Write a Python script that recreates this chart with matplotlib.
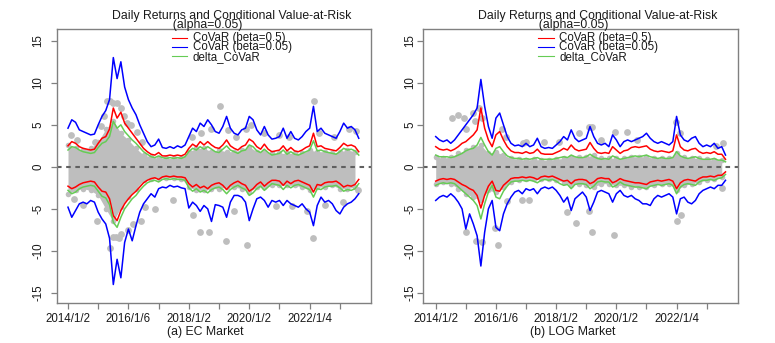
import numpy as np
import matplotlib
matplotlib.use("Agg")
import matplotlib.pyplot as plt
from matplotlib.lines import Line2D

plt.rcParams['font.family'] = ['Liberation Sans', 'DejaVu Sans']

# ---------------- data ----------------
# time grid: every 1/8 year starting 2014/1/2
t_start = 2014.0
n_pts = 78
# band grid: every 1/4 year
n_band = 39

tick_years = [2014, 2015, 2016, 2017, 2018, 2019, 2020, 2021, 2022, 2023]
tick_labels = ["2014/1/2", "", "2016/1/6", "", "2018/1/2", "", "2020/1/2", "", "2022/1/4", ""]
y_ticks = [-15, -10, -5, 0, 5, 10, 15]

# ----- EC market -----
ec_blue_up = [4.6, 5.6, 5.3, 4.4, 4.2, 4.0, 3.8, 3.9,
              5.0, 6.0, 6.7, 8.0, 13.0, 10.5, 12.5, 9.5,
              8.0, 7.0, 6.2, 5.0, 4.0, 3.0, 2.4, 2.6,
              3.3, 2.3, 2.2, 2.4, 2.2, 2.5, 2.3, 2.6,
              3.6, 4.6, 4.2, 5.2, 4.8, 5.6, 5.0, 4.2,
              4.0, 4.8, 6.0, 4.6, 4.0, 3.8, 4.4, 4.6,
              6.0, 5.6, 4.4, 3.8, 4.8, 3.8, 3.3, 3.4,
              3.6, 4.6, 3.4, 4.2, 3.4, 3.2, 3.6, 4.2,
              4.6, 7.2, 4.2, 4.6, 4.0, 3.8, 3.6, 3.4,
              4.2, 5.2, 4.6, 4.8, 4.4, 3.4]
ec_red_up = [2.5, 3.0, 2.8, 2.4, 2.2, 2.1, 2.0, 2.1,
             2.8, 3.4, 3.6, 4.5, 7.0, 5.8, 6.5, 5.2,
             4.6, 4.0, 3.4, 2.8, 2.2, 1.8, 1.5, 1.4,
             1.7, 1.3, 1.3, 1.4, 1.3, 1.4, 1.3, 1.5,
             2.2, 2.7, 2.4, 3.0, 2.6, 3.0, 2.6, 2.3,
             2.2, 2.6, 3.2, 2.5, 2.2, 2.0, 2.4, 2.6,
             3.3, 3.0, 2.4, 2.1, 2.7, 2.1, 1.8, 1.9,
             2.0, 2.5, 1.9, 2.3, 1.9, 1.8, 2.0, 2.3,
             2.5, 4.0, 2.4, 2.5, 2.2, 2.1, 2.0, 1.9,
             2.3, 2.8, 2.5, 2.6, 2.4, 1.8]
ec_green_up = [2.0, 2.4, 2.3, 2.0, 1.8, 1.7, 1.6, 1.7,
               2.3, 2.8, 3.0, 3.6, 5.4, 4.6, 5.0, 4.2,
               3.7, 3.2, 2.8, 2.3, 1.8, 1.5, 1.2, 1.1,
               1.3, 1.1, 1.0, 1.1, 1.0, 1.1, 1.0, 1.2,
               1.8, 2.2, 2.0, 2.4, 2.1, 2.4, 2.1, 1.8,
               1.7, 2.1, 2.5, 2.0, 1.8, 1.6, 1.9, 2.0,
               2.6, 2.4, 1.9, 1.7, 2.1, 1.7, 1.4, 1.5,
               1.6, 2.0, 1.5, 1.8, 1.5, 1.4, 1.6, 1.8,
               2.0, 3.1, 1.9, 2.0, 1.8, 1.7, 1.6, 1.5,
               1.8, 2.2, 2.0, 2.1, 1.9, 1.4]
ec_red_lo = [-2.3, -2.6, -2.4, -2.1, -1.9, -1.8, -1.7, -1.8,
             -2.4, -2.9, -3.0, -3.8, -5.8, -6.4, -5.2, -4.4,
             -3.8, -3.3, -2.9, -2.4, -1.9, -1.6, -1.4, -1.3,
             -1.5, -1.2, -1.1, -1.2, -1.1, -1.2, -1.2, -1.3,
             -2.0, -2.4, -2.1, -2.5, -2.3, -2.6, -2.2, -2.0,
             -1.9, -2.2, -2.7, -2.2, -1.9, -1.7, -2.0, -2.2,
             -2.9, -2.6, -2.1, -1.8, -2.3, -1.9, -1.6, -1.6,
             -1.7, -2.2, -1.7, -2.0, -1.7, -1.6, -1.8, -2.0,
             -2.2, -3.0, -2.1, -2.2, -1.9, -1.8, -1.8, -1.7,
             -2.0, -2.4, -2.2, -2.3, -2.1, -1.5]
ec_green_lo = [-2.8, -3.2, -3.0, -2.6, -2.4, -2.3, -2.2, -2.3,
               -2.9, -3.5, -3.7, -4.5, -6.6, -7.2, -6.0, -5.0,
               -4.4, -3.8, -3.4, -2.8, -2.3, -1.9, -1.7, -1.6,
               -1.8, -1.5, -1.4, -1.5, -1.4, -1.5, -1.5, -1.6,
               -2.5, -2.9, -2.6, -3.0, -2.8, -3.1, -2.7, -2.5,
               -2.4, -2.7, -3.2, -2.7, -2.4, -2.2, -2.5, -2.7,
               -3.4, -3.1, -2.6, -2.3, -2.8, -2.4, -2.0, -2.1,
               -2.2, -2.7, -2.2, -2.5, -2.2, -2.1, -2.3, -2.5,
               -2.7, -3.6, -2.6, -2.7, -2.4, -2.3, -2.3, -2.2,
               -2.5, -2.9, -2.7, -2.8, -2.6, -2.0]
ec_blue_lo = [-4.8, -6.0, -5.2, -4.4, -4.2, -4.4, -4.0, -4.2,
              -5.4, -6.2, -6.8, -8.5, -14.0, -11.0, -13.2, -9.0,
              -7.4, -8.8, -7.0, -5.4, -4.4, -3.8, -3.2, -3.6,
              -2.6, -2.4, -2.5, -2.2, -2.4, -2.3, -2.5, -2.6,
              -4.9, -4.2, -4.6, -5.3, -4.6, -5.0, -6.5, -4.5,
              -4.6, -4.8, -6.0, -4.2, -3.4, -3.4, -3.6, -4.2,
              -6.4, -5.0, -3.8, -3.6, -4.0, -4.8, -4.0, -4.2,
              -4.0, -4.6, -4.0, -4.4, -4.6, -4.8, -4.4, -5.0,
              -5.4, -7.0, -4.6, -3.6, -4.2, -4.0, -4.4, -5.2,
              -5.6, -4.8, -4.4, -4.2, -3.8, -3.2]
ec_band_hi = [2.6, 2.2, 2.0, 2.2, 3.0, 4.5, 5.5, 4.0,
              3.2, 2.2, 1.4, 1.2, 1.0, 1.0, 1.0, 1.1,
              1.8, 2.2, 2.2, 1.8, 2.0, 1.8, 1.8, 2.0,
              2.4, 1.8, 1.8, 1.6, 1.6, 1.6, 1.6, 1.6,
              2.0, 1.8, 1.8, 1.6, 1.8, 2.0, 1.8]
ec_band_lo = [-3.2, -2.8, -2.6, -2.8, -3.4, -5.0, -6.5, -4.8,
              -3.6, -2.6, -1.6, -1.4, -1.3, -1.3, -1.3, -1.4,
              -2.4, -2.8, -2.8, -2.6, -2.6, -2.4, -2.4, -2.6,
              -3.0, -2.4, -2.4, -2.2, -2.2, -2.2, -2.2, -2.4,
              -2.8, -2.4, -2.4, -2.2, -2.6, -2.6, -2.4]
ec_out_t = [2014.1, 2014.3, 2014.9, 2015.1, 2015.2, 2015.3, 2015.4, 2015.5, 2015.62,
            2015.75, 2015.85, 2015.95, 2016.1, 2016.3, 2016.45, 2018.1, 2018.4, 2018.75,
            2019.03, 2019.3, 2019.55, 2019.9, 2020.05, 2020.5, 2021.0, 2021.3, 2022.14,
            2022.3, 2022.8, 2023.3, 2023.55,
            2014.2, 2014.5, 2014.96, 2015.4, 2015.5, 2015.6, 2015.7, 2015.75, 2016.0,
            2016.15, 2016.42, 2016.56, 2016.88, 2017.48, 2018.15, 2018.37, 2018.67,
            2019.23, 2019.5, 2019.93, 2020.9, 2021.4, 2021.9, 2022.12, 2022.5, 2023.1, 2023.6]
ec_out_v = [3.8, 3.2, 3.0, 4.8, 6.0, 7.8, 7.8, 7.6, 7.6,
            7.0, 6.0, 5.2, 5.0, 4.2, 3.0, 3.5, 4.0, 4.5,
            7.2, 4.4, 3.6, 4.5, 5.0, 4.0, 3.8, 3.5, 7.8,
            4.0, 3.5, 4.5, 4.3,
            -3.8, -4.5, -6.4, -9.7, -8.3, -8.3, -8.5, -8.0, -7.5,
            -6.8, -6.5, -4.8, -5.0, -3.9, -5.7, -7.8, -7.7,
            -8.8, -5.2, -9.3, -4.7, -4.7, -5.2, -8.5, -4.5, -4.2, -2.8]

# ----- LOG market -----
log_blue_up = [3.6, 3.2, 3.0, 3.2, 2.8, 3.2, 3.8, 4.4,
               5.0, 5.6, 6.2, 7.0, 10.4, 7.2, 4.8, 3.4,
               5.8, 6.4, 5.0, 3.6, 2.8, 2.5, 2.6, 2.4,
               2.8, 2.4, 2.6, 3.4, 2.4, 2.2, 2.3, 2.2,
               2.6, 3.0, 3.6, 3.2, 4.4, 3.4, 3.0, 3.2,
               3.4, 4.8, 3.6, 2.8, 2.6, 2.8, 2.4, 3.8,
               3.2, 2.4, 3.0, 3.2, 3.0, 3.2, 3.4, 3.6,
               4.0, 3.4, 3.0, 2.8, 3.0, 2.8, 2.6, 3.0,
               6.0, 3.8, 3.2, 3.0, 3.4, 3.6, 2.8, 2.4,
               2.6, 2.4, 2.8, 2.2, 2.4, 1.4]
log_red_up = [2.4, 2.1, 2.0, 2.1, 1.9, 2.1, 2.4, 2.8,
              3.0, 3.4, 3.8, 4.4, 7.0, 4.6, 3.2, 2.4,
              3.8, 4.2, 3.2, 2.4, 1.9, 1.7, 1.7, 1.6,
              1.8, 1.6, 1.7, 2.1, 1.6, 1.5, 1.5, 1.5,
              1.7, 1.9, 2.2, 2.0, 2.6, 2.1, 1.9, 2.0,
              2.1, 2.9, 2.2, 1.7, 1.6, 1.7, 1.6, 2.4,
              2.0, 1.6, 1.9, 2.0, 2.3, 2.4, 2.3, 2.4,
              2.5, 2.1, 1.9, 1.8, 1.9, 1.8, 1.7, 1.9,
              3.8, 2.4, 2.0, 1.9, 2.1, 2.2, 1.8, 1.6,
              1.7, 1.6, 1.8, 1.5, 1.5, 0.9]
log_green_up = [1.4, 1.2, 1.2, 1.2, 1.1, 1.2, 1.4, 1.6,
                1.9, 2.1, 2.2, 2.6, 3.5, 2.6, 1.8, 1.4,
                2.2, 2.4, 1.8, 1.3, 1.1, 1.0, 1.0, 0.9,
                1.0, 0.9, 1.0, 1.1, 0.9, 0.9, 0.9, 0.9,
                1.0, 1.1, 1.2, 1.1, 1.4, 1.2, 1.1, 1.1,
                1.2, 1.5, 1.2, 1.0, 0.9, 1.0, 0.9, 1.3,
                1.1, 0.9, 1.0, 1.1, 1.2, 1.3, 1.2, 1.3,
                1.4, 1.2, 1.1, 1.0, 1.1, 1.0, 1.0, 1.1,
                1.8, 1.3, 1.1, 1.0, 1.1, 1.2, 1.0, 0.9,
                0.9, 0.9, 1.0, 0.8, 0.8, 0.6]
log_red_lo = [-1.7, -1.5, -1.4, -1.5, -1.4, -1.5, -1.8, -2.1,
              -2.3, -2.6, -2.8, -3.4, -4.9, -3.4, -2.3, -1.7,
              -2.8, -2.9, -2.2, -1.8, -1.4, -1.3, -1.3, -1.2,
              -1.3, -1.2, -1.3, -1.5, -1.2, -1.1, -1.2, -1.1,
              -1.3, -1.5, -1.7, -1.6, -2.0, -1.6, -1.5, -1.5,
              -1.6, -2.0, -1.8, -1.4, -1.3, -1.4, -1.4, -1.9,
              -1.7, -1.4, -1.6, -1.7, -1.8, -1.9, -1.9, -2.0,
              -2.1, -1.8, -1.7, -1.6, -1.7, -1.6, -1.5, -1.7,
              -2.6, -1.9, -1.6, -1.5, -1.6, -1.7, -1.4, -1.2,
              -1.2, -1.1, -1.2, -1.0, -1.0, -0.6]
log_green_lo = [-2.2, -2.0, -1.9, -2.0, -1.9, -2.0, -2.4, -2.8,
                -3.2, -3.6, -4.0, -4.6, -6.2, -4.4, -3.0, -2.2,
                -3.6, -3.8, -2.9, -2.3, -1.8, -1.7, -1.7, -1.6,
                -1.7, -1.6, -1.7, -1.9, -1.6, -1.5, -1.6, -1.5,
                -1.7, -2.0, -2.2, -2.1, -2.6, -2.1, -2.0, -2.0,
                -2.1, -2.6, -2.3, -1.8, -1.7, -1.8, -1.8, -2.4,
                -2.2, -1.8, -2.1, -2.2, -2.3, -2.4, -2.4, -2.5,
                -2.6, -2.3, -2.2, -2.1, -2.2, -2.1, -2.0, -2.2,
                -3.2, -2.4, -2.1, -2.0, -2.1, -2.2, -1.8, -1.6,
                -1.6, -1.5, -1.6, -1.4, -1.3, -0.9]
log_blue_lo = [-4.0, -3.6, -3.4, -3.6, -3.2, -3.6, -4.2, -5.0,
               -7.4, -5.6, -6.8, -8.2, -11.8, -7.8, -5.0, -4.0,
               -7.2, -7.6, -5.6, -4.4, -3.6, -3.0, -2.8, -3.2,
               -2.6, -2.8, -2.6, -3.2, -2.6, -2.4, -2.6, -2.4,
               -2.8, -3.4, -4.2, -3.6, -5.2, -3.8, -3.4, -3.0,
               -3.6, -5.2, -4.2, -3.0, -2.8, -3.0, -3.2, -4.2,
               -3.2, -2.8, -3.4, -3.6, -3.4, -3.8, -4.0, -4.4,
               -4.4, -4.6, -3.8, -3.4, -3.6, -3.4, -3.2, -3.6,
               -5.6, -3.8, -3.6, -4.2, -4.4, -4.0, -3.2, -2.8,
               -2.6, -2.4, -2.6, -2.2, -2.2, -1.6]
log_band_hi = [1.2, 1.0, 1.2, 1.6, 2.0, 2.4, 2.6, 1.6,
               1.8, 1.4, 1.0, 0.9, 0.8, 0.9, 0.8, 0.8,
               0.9, 1.0, 1.2, 1.2, 1.2, 1.4, 1.0, 1.0,
               1.0, 1.0, 1.2, 1.2, 1.2, 1.0, 1.0, 1.0,
               1.6, 1.2, 1.0, 1.0, 0.9, 0.8, 0.8]
log_band_lo = [-2.0, -1.8, -2.0, -2.6, -3.2, -3.6, -4.0, -2.8,
               -3.0, -2.4, -1.8, -1.6, -1.5, -1.5, -1.5, -1.5,
               -1.6, -1.8, -2.2, -2.0, -2.2, -2.4, -2.0, -2.0,
               -2.2, -2.2, -2.4, -2.4, -2.4, -2.2, -2.0, -2.0,
               -2.8, -2.2, -2.0, -1.8, -1.6, -1.5, -1.2]
log_out_t = [2014.55, 2014.75, 2014.93, 2015.0, 2015.24, 2015.3, 2015.45, 2015.55,
             2016.2, 2016.35, 2016.9, 2017.0, 2017.6, 2018.1, 2018.75, 2019.09, 2019.2,
             2019.5, 2019.95, 2020.36, 2020.7, 2021.98, 2022.1, 2023.3, 2023.55,
             2015.0, 2015.35, 2015.55, 2015.96, 2016.07, 2016.37, 2016.86, 2017.1,
             2018.35, 2018.66, 2019.1, 2019.19, 2019.93, 2022.0, 2022.14, 2023.5]
log_out_v = [5.8, 6.2, 5.8, 4.5, 6.4, 5.4, 7.0, 5.8,
             4.5, 3.5, 2.8, 3.0, 3.0, 3.0, 4.0, 4.7, 4.7,
             3.2, 4.2, 4.2, 3.2, 5.3, 4.0, 2.5, 2.8,
             -7.8, -8.8, -9.0, -7.3, -9.3, -4.1, -4.0, -4.0,
             -5.4, -6.7, -5.3, -7.8, -8.1, -6.4, -5.7, -2.5]

title_line1 = "Daily Returns and Conditional Value-at-Risk"
title_line2 = "(alpha=0.05)"
legend_labels = ["CoVaR (beta=0.5)", "CoVaR (beta=0.05)", "delta_CoVaR"]

panels = [
    dict(blue_up=ec_blue_up, red_up=ec_red_up, green_up=ec_green_up,
         red_lo=ec_red_lo, green_lo=ec_green_lo, blue_lo=ec_blue_lo,
         band_hi=ec_band_hi, band_lo=ec_band_lo, out_t=ec_out_t, out_v=ec_out_v,
         xlabel="(a) EC Market"),
    dict(blue_up=log_blue_up, red_up=log_red_up, green_up=log_green_up,
         red_lo=log_red_lo, green_lo=log_green_lo, blue_lo=log_blue_lo,
         band_hi=log_band_hi, band_lo=log_band_lo, out_t=log_out_t, out_v=log_out_v,
         xlabel="(b) LOG Market"),
]

# ---------------- drawing ----------------
W, H = 775, 343
fig = plt.figure(figsize=(W / 100, H / 100), dpi=100)

axes_px = [(57, 371), (423, 738)]
title_left = [112, 478]
title_indent = [18, 18]
xlabel_cx = [205, 573]
ypad = [5.0, 1.0]
xlims = [(2013.636, 2024.03), (2013.578, 2024.04)]

GRAY = '#BEBEBE'
GREEN = '#66CC55'
FRAME = '#808080'
TXT = '#1a1a1a'
FS = 8.3
FS_TITLE = 8.8

t_line = t_start + np.arange(n_pts) / 8.0
t_band = t_start + np.arange(n_band) / 4.0

for i, p in enumerate(panels):
    x0, x1 = axes_px[i]
    ax = fig.add_axes([x0 / W, 1 - 303 / H, (x1 - x0) / W, (303 - 29) / H])

    ax.fill_between(t_band, p['band_lo'], p['band_hi'], color=GRAY, lw=0, zorder=1)
    ax.scatter(t_band, p['band_hi'], s=16, color=GRAY, lw=0, zorder=1)
    ax.scatter(t_band, p['band_lo'], s=16, color=GRAY, lw=0, zorder=1)
    ax.scatter(p['out_t'], p['out_v'], s=24, color=GRAY, lw=0, zorder=1)
    ax.axhline(0, color='#606060', ls=(0, (2.2, 2.2)), lw=1.5, zorder=2)

    lw = 1.1
    ax.plot(t_line, p['blue_up'], color='blue', lw=lw, zorder=3)
    ax.plot(t_line, p['blue_lo'], color='blue', lw=lw, zorder=3)
    ax.plot(t_line, p['red_up'], color='red', lw=lw, zorder=4)
    ax.plot(t_line, p['red_lo'], color='red', lw=lw, zorder=4)
    ax.plot(t_line, p['green_up'], color=GREEN, lw=lw, zorder=5)
    ax.plot(t_line, p['green_lo'], color=GREEN, lw=lw, zorder=5)

    ax.set_xlim(*xlims[i])
    ax.set_ylim(-16.2, 16.4)
    ax.set_xticks(tick_years)
    ax.set_xticklabels(tick_labels, fontsize=FS, color=TXT)
    ax.set_yticks(y_ticks)
    ax.set_yticklabels([str(v) for v in y_ticks], fontsize=FS, rotation=90,
                       va='center', color=TXT)
    ax.tick_params(direction='out', length=4, width=0.9, color=FRAME)
    ax.tick_params(axis='x', pad=3.5)
    ax.tick_params(axis='y', pad=ypad[i])
    for s in ax.spines.values():
        s.set_color(FRAME)
        s.set_linewidth(1.0)

    # legend (no frame): short line samples + one multi-line label block
    cols = ['red', 'blue', GREEN]
    ys = [0.967, 0.934, 0.901]
    for col, yy in zip(cols, ys):
        ax.add_line(Line2D([0.366, 0.415], [yy, yy], transform=ax.transAxes,
                           color=col, lw=0.8, zorder=6))
    ax.text(0.432, ys[1], "\n".join(legend_labels), transform=ax.transAxes,
            fontsize=FS, va='center', ha='left', linespacing=0.73,
            color=TXT, zorder=6)

    fig.text(title_left[i] / W, 1 - 10 / H,
             title_line1 + "\n" + " " * title_indent[i] + title_line2,
             ha='left', va='top', multialignment='left', linespacing=0.72,
             fontsize=FS_TITLE, color=TXT)
    fig.text(xlabel_cx[i] / W, 1 - 332 / H, p['xlabel'],
             ha='center', va='center', fontsize=8.8, color=TXT)

fig.savefig("out.png", dpi=100)
